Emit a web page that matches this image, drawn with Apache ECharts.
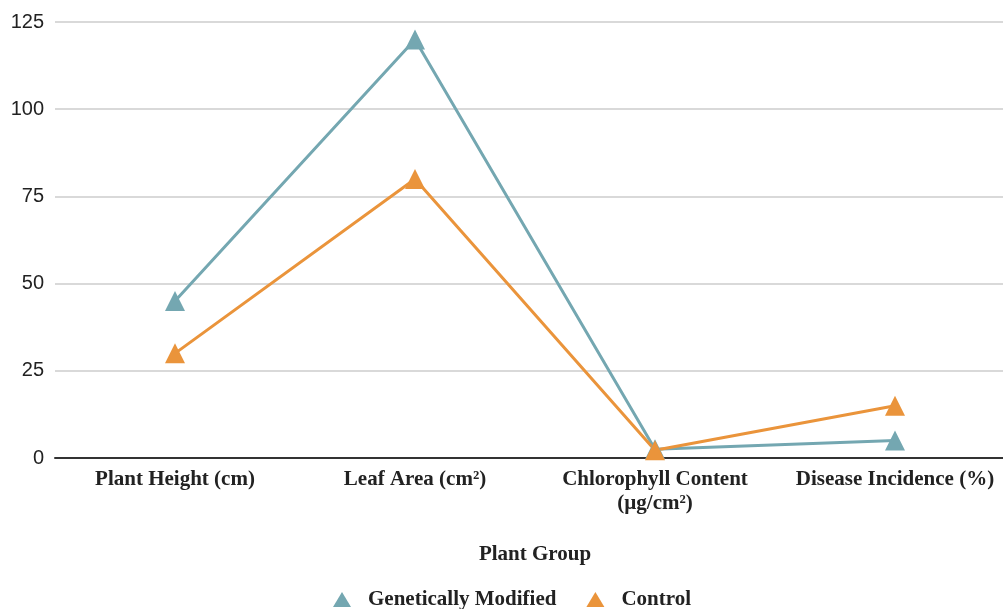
<!DOCTYPE html>
<html>
<head>
<meta charset="utf-8">
<script src="https://cdn.jsdelivr.net/npm/echarts@6/dist/echarts.min.js"></script>
<style>html,body{margin:0;padding:0;background:#fff;}#c{width:1003px;height:609px;}</style>
</head>
<body>
<div id="c"></div>
<script>
const categories = ['Plant Height (cm)', 'Leaf Area (cm²)', 'Chlorophyll Content\n(µg/cm²)', 'Disease Incidence (%)'];
const gmValues = [45, 120, 2.5, 5];
const controlValues = [30, 80, 2.2, 15];
const yTicks = [0, 25, 50, 75, 100, 125];

const chart = echarts.init(document.getElementById('c'));
const serif = '"Liberation Serif", "DejaVu Serif", serif';
chart.setOption({
  animation: false,
  grid: { left: 55, width: 960, top: 22, height: 436, containLabel: false, outerBoundsMode: 'none' },
  legend: {
    top: 584,
    left: 328,
    itemWidth: 18,
    itemHeight: 15,
    itemGap: 30,
    textStyle: { fontFamily: serif, fontWeight: 'bold', fontSize: 21, color: '#222', padding: [0, 0, 0, 12] },
    data: [
      { name: 'Genetically Modified', icon: 'triangle' },
      { name: 'Control', icon: 'triangle' }
    ]
  },
  xAxis: {
    type: 'category',
    data: categories,
    boundaryGap: true,
    name: 'Plant Group',
    nameLocation: 'middle',
    nameGap: 86,
    nameTextStyle: { fontFamily: serif, fontWeight: 'bold', fontSize: 21, color: '#222' },
    axisLine: { lineStyle: { color: '#333', width: 2 } },
    axisTick: { show: false },
    axisLabel: { fontFamily: serif, fontWeight: 'bold', fontSize: 21, color: '#222', margin: 10, lineHeight: 24, interval: 0 }
  },
  yAxis: {
    type: 'value',
    min: yTicks[0],
    max: yTicks[yTicks.length - 1],
    interval: 25,
    axisLine: { show: false },
    axisTick: { show: false },
    axisLabel: { fontFamily: '"Liberation Sans", Arial, sans-serif', fontSize: 20, color: '#222', margin: 11 },
    splitLine: { lineStyle: { color: '#cccccc', width: 1.5 } }
  },
  series: [
    {
      name: 'Genetically Modified',
      type: 'line',
      data: gmValues,
      symbol: 'triangle',
      symbolSize: 20,
      color: '#74a7b1',
      lineStyle: { width: 3, color: '#74a7b1' },
      itemStyle: { color: '#74a7b1' }
    },
    {
      name: 'Control',
      type: 'line',
      data: controlValues,
      symbol: 'triangle',
      symbolSize: 20,
      color: '#ea943b',
      lineStyle: { width: 3, color: '#ea943b' },
      itemStyle: { color: '#ea943b' }
    }
  ]
});
</script>
</body>
</html>
